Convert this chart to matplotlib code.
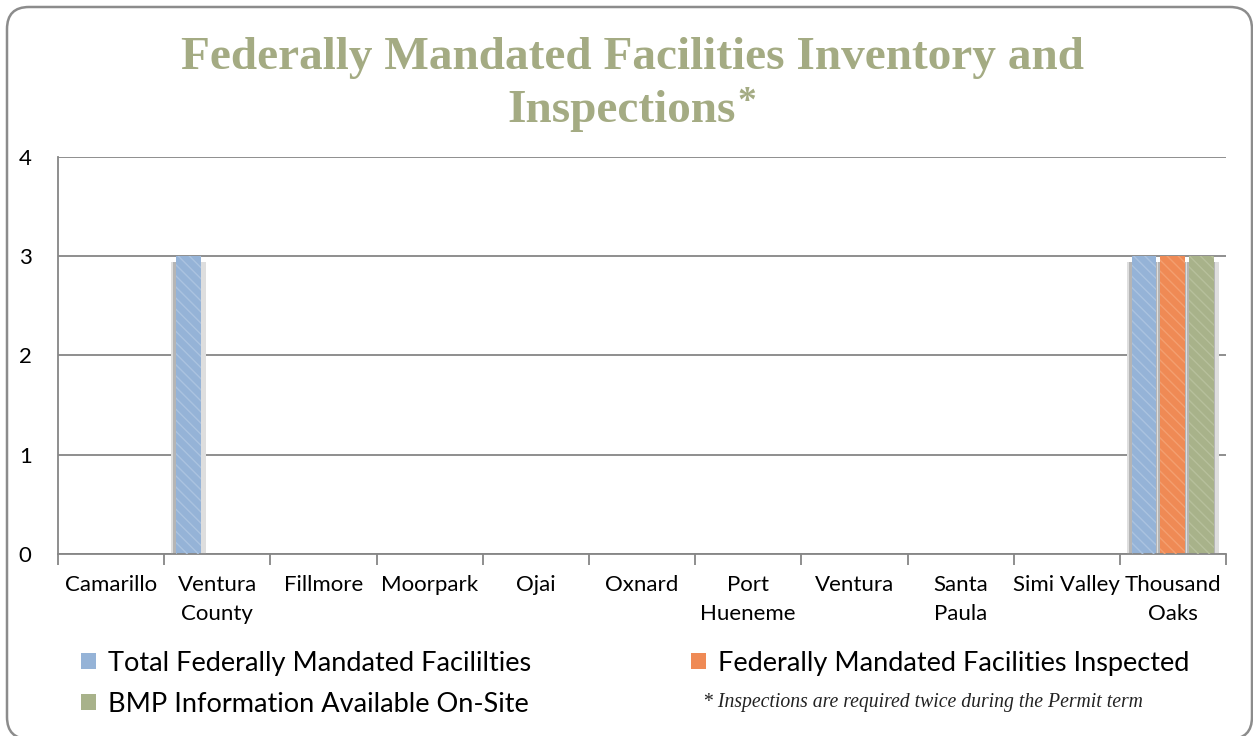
import numpy as np
import matplotlib
matplotlib.use("Agg")
import matplotlib.pyplot as plt
from matplotlib.patches import FancyBboxPatch, Patch

categories = ["Camarillo", "Ventura\nCounty", "Fillmore", "Moorpark", "Ojai",
              "Oxnard", "Port\nHueneme", "Ventura", "Santa\nPaula",
              "Simi Valley", "Thousand\nOaks"]
total = [0, 3, 0, 0, 0, 0, 0, 0, 0, 0, 3]
inspected = [0, 0, 0, 0, 0, 0, 0, 0, 0, 0, 3]
bmp = [0, 0, 0, 0, 0, 0, 0, 0, 0, 0, 3]
series_names = ["Total Federally Mandated Facililties",
                "Federally Mandated Facilities Inspected",
                "BMP Information Available On-Site"]
colors = ["#95b3d7", "#ef8a55", "#a8b28a"]
hatch_colors = ["#abc3e0", "#f49f70", "#b7c09c"]

plt.rcParams['font.family'] = ['Lato', 'DejaVu Sans']

fig = plt.figure(figsize=(12.53, 7.36), dpi=100)
ax = fig.add_axes([0.0463, 0.2473, 0.9322, 0.5394])

x = np.arange(len(categories))
width = 0.235
step = 0.273
handles = []
for i, (vals, name) in enumerate(zip([total, inspected, bmp], series_names)):
    vals = np.array(vals, dtype=float)
    pos = x + (i - 1) * step
    mask = vals > 0
    # shadow behind the bars
    ax.bar(pos[mask], vals[mask] - 0.06, width=width + 0.09, color="#dedede",
           zorder=1)
    ax.bar(pos[mask] - 0.01, vals[mask] - 0.06, width=width + 0.03,
           color="#b5b5b5", zorder=1.5)
    ax.bar(pos[mask], vals[mask], width=width, color=colors[i], zorder=2)
    ax.bar(pos[mask], vals[mask], width=width, facecolor="none",
           edgecolor=hatch_colors[i], hatch="\\\\\\", linewidth=0, zorder=3)
    handles.append(Patch(facecolor=colors[i], edgecolor="none", label=name))

ax.set_xlim(-0.5, len(categories) - 0.5)
ax.set_ylim(0, 4)
ax.set_yticks([0, 1, 2, 3, 4])
ax.set_yticklabels(["0", "1", "2", "3", "4"], fontsize=16)
ax.tick_params(axis="y", length=0, pad=19)
ax.set_xticks(x)
ax.set_xticklabels(categories, fontsize=16, linespacing=1.56)
ax.tick_params(axis="x", which="major", length=0, pad=15)
ax.set_xticks(np.arange(len(categories) + 1) - 0.5, minor=True)
ax.tick_params(axis="x", which="minor", length=8, color="#868686", width=1.3)
ax.grid(axis="y", color="#868686", linewidth=1.3, zorder=0)
ax.set_axisbelow(True)
for s in ["top", "right"]:
    ax.spines[s].set_visible(False)
for s in ["left", "bottom"]:
    ax.spines[s].set_color("#868686")
    ax.spines[s].set_linewidth(1.3)

title_kw = dict(fontsize=34, fontweight="bold", family="Liberation Serif",
                color="#a4ab83")
fig.text(0.505, 0.921, "Federally Mandated Facilities Inventory and",
         ha="center", va="center", **title_kw)
line2 = fig.text(0.496, 0.849, "Inspections", ha="center", va="center",
                 **title_kw)
ax.annotate("*", xy=(1, 1), xycoords=line2, xytext=(1, 4),
            textcoords="offset points", ha="left", va="top",
            fontsize=27, fontweight="bold", family="Liberation Serif",
            color="#a4ab83")

fig.legend(handles=[handles[0], handles[2], handles[1]], loc="upper left",
           bbox_to_anchor=(0.0645, 0.116), ncol=2, frameon=False,
           fontsize=19.5, handlelength=0.55, handleheight=0.55,
           handletextpad=0.45, columnspacing=5.9, labelspacing=0.6,
           borderaxespad=0, borderpad=0)
fig.text(0.561, 1 - 703 / 736,
         "* Inspections are required twice during the Permit term",
         ha="left", va="center", fontsize=14.2, style="italic",
         family="Liberation Serif", color="#222222")

# rounded outer frame, in pixels
frame = FancyBboxPatch((7, -3), 1245, 736 - 7 + 3,
                       boxstyle="round,pad=0,rounding_size=22",
                       transform=None, facecolor="none",
                       edgecolor="#8c8c8c", linewidth=1.8, clip_on=False)
fig.patches.append(frame)

fig.savefig("out.png", dpi=100)
